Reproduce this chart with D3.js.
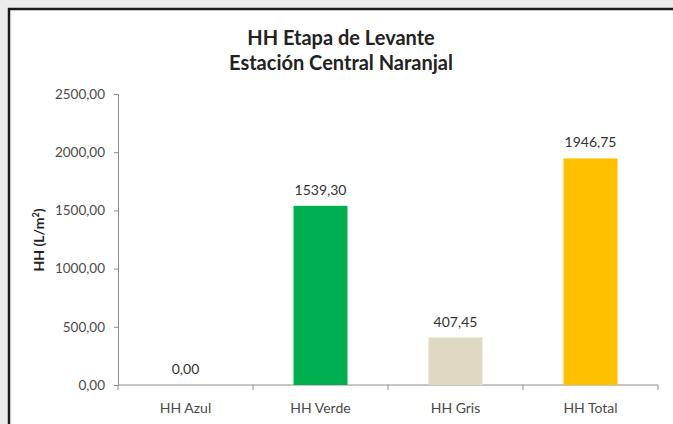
<!DOCTYPE html>
<html lang="es">
<head>
<meta charset="UTF-8">
<title>HH Etapa de Levante</title>
<script src="https://cdn.jsdelivr.net/npm/d3@7"></script>
<style>
  body { margin: 0; background: #ececec; }
  svg { display: block; font-family: Lato, "Open Sans", sans-serif; }
</style>
</head>
<body>
<svg id="main" width="673" height="424"></svg>
<script>
  // data
  var categories = ["HH Azul", "HH Verde", "HH Gris", "HH Total"];
  var values = [0.00, 1539.30, 407.45, 1946.75];
  var barColors = ["#4f81bd", "#00b050", "#ddd9c3", "#ffc000"];
  var yTicks = [0, 500, 1000, 1500, 2000, 2500];

  var svg = d3.select("svg#main");
  var fmt = function(v) { return d3.format(".2f")(v).replace(".", ","); };

  // white chart box with dark border
  svg.append("rect")
    .attr("x", 9).attr("y", 9)
    .attr("width", 700).attr("height", 460)
    .attr("fill", "#ffffff")
    .attr("stroke", "#1a1a1a")
    .attr("stroke-width", 2.5);

  var plotL = 118, plotR = 658, plotT = 94, plotB = 385;

  var x = d3.scaleBand()
    .domain(categories)
    .range([plotL, plotR])
    .paddingInner(0.6)
    .paddingOuter(0.3);

  var y = d3.scaleLinear()
    .domain([0, 2500])
    .range([plotB, plotT]);

  // title
  svg.append("text")
    .attr("x", 341).attr("y", 45)
    .attr("text-anchor", "middle")
    .attr("font-size", 20).attr("font-weight", "bold")
    .attr("fill", "#222")
    .text("HH Etapa de Levante");
  svg.append("text")
    .attr("x", 341).attr("y", 70)
    .attr("text-anchor", "middle")
    .attr("font-size", 20).attr("font-weight", "bold")
    .attr("fill", "#222")
    .text("Estación Central Naranjal");

  // y axis
  var yAxis = svg.append("g")
    .attr("transform", "translate(" + plotL + ",0)")
    .call(d3.axisLeft(y).tickValues(yTicks).tickFormat(fmt).tickSize(4).tickPadding(9));
  yAxis.select(".domain").attr("stroke", "#8c8c8c");
  yAxis.selectAll(".tick line").attr("stroke", "#8c8c8c");
  yAxis.selectAll("text").attr("font-size", 13.5).attr("fill", "#4a4a4a")
    .attr("font-family", "Lato, sans-serif");

  // x axis with tick marks on band boundaries
  var xAxis = svg.append("g")
    .attr("transform", "translate(0," + plotB + ")");
  xAxis.append("line")
    .attr("x1", plotL).attr("x2", plotR)
    .attr("stroke", "#8c8c8c");
  var step = (plotR - plotL) / categories.length;
  xAxis.selectAll("line.tk")
    .data(d3.range(categories.length + 1))
    .enter().append("line")
    .attr("class", "tk")
    .attr("x1", function(i) { return plotL + i * step; })
    .attr("x2", function(i) { return plotL + i * step; })
    .attr("y1", 0).attr("y2", 5)
    .attr("stroke", "#8c8c8c");
  xAxis.selectAll("text")
    .data(categories)
    .enter().append("text")
    .attr("x", function(d) { return x(d) + x.bandwidth() / 2; })
    .attr("y", 28)
    .attr("text-anchor", "middle")
    .attr("font-size", 14)
    .attr("fill", "#4a4a4a")
    .text(function(d) { return d; });

  // y axis title
  var yt = svg.append("text")
    .attr("transform", "translate(44,240) rotate(-90)")
    .attr("text-anchor", "middle")
    .attr("font-size", 14).attr("font-weight", "bold")
    .attr("fill", "#222");
  yt.append("tspan").text("HH (L/m");
  yt.append("tspan").attr("baseline-shift", "super").attr("font-size", 9).text("2");
  yt.append("tspan").text(")");

  // bars
  svg.selectAll("rect.bar")
    .data(values)
    .enter().append("rect")
    .attr("class", "bar")
    .attr("x", function(d, i) { return x(categories[i]); })
    .attr("y", function(d) { return y(d); })
    .attr("width", x.bandwidth())
    .attr("height", function(d) { return plotB - y(d); })
    .attr("fill", function(d, i) { return barColors[i]; });

  // value labels
  svg.selectAll("text.val")
    .data(values)
    .enter().append("text")
    .attr("class", "val")
    .attr("x", function(d, i) { return x(categories[i]) + x.bandwidth() / 2; })
    .attr("y", function(d) { return y(d) - 11; })
    .attr("text-anchor", "middle")
    .attr("font-size", 14)
    .attr("fill", "#333")
    .text(function(d) { return fmt(d); });
</script>
</body>
</html>
